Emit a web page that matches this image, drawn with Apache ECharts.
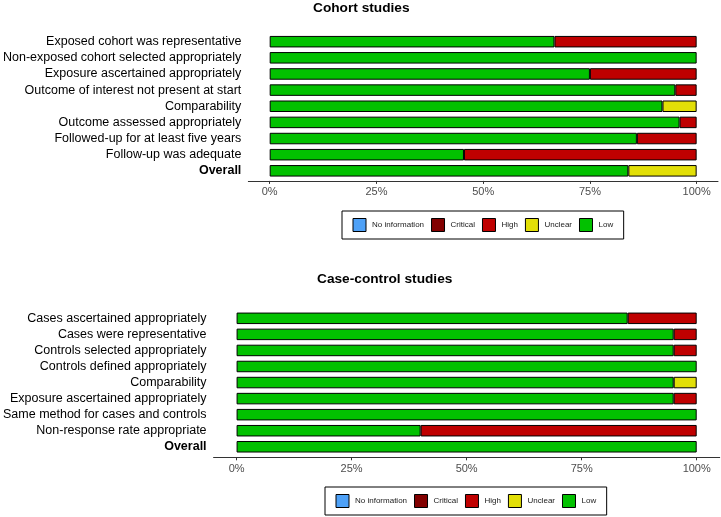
<!DOCTYPE html>
<html>
<head>
<meta charset="utf-8">
<script src="https://cdn.jsdelivr.net/npm/echarts@6/dist/echarts.min.js"></script>
<style>html,body{margin:0;padding:0;background:#fff}#c{width:721px;height:517px}</style>
</head>
<body>
<div id="c"></div>
<script>
// ---- data ----
const cohortDomains = [
  'Exposed cohort was representative',
  'Non-exposed cohort selected appropriately',
  'Exposure ascertained appropriately',
  'Outcome of interest not present at start',
  'Comparability',
  'Outcome assessed appropriately',
  'Followed-up for at least five years',
  'Follow-up was adequate',
  'Overall'
];
const cohortLow     = [66.7, 100, 75, 95, 92, 96, 86, 45.5, 84];
const cohortUnclear = [0, 0, 0, 0, 8, 0, 0, 0, 16];
const cohortHigh    = [33.3, 0, 25, 5, 0, 4, 14, 54.5, 0];
const cohortCritical = [0, 0, 0, 0, 0, 0, 0, 0, 0];
const cohortNoInfo   = [0, 0, 0, 0, 0, 0, 0, 0, 0];

const ccDomains = [
  'Cases ascertained appropriately',
  'Cases were representative',
  'Controls selected appropriately',
  'Controls defined appropriately',
  'Comparability',
  'Exposure ascertained appropriately',
  'Same method for cases and controls',
  'Non-response rate appropriate',
  'Overall'
];
const ccLow     = [85, 95, 95, 100, 95, 95, 100, 40, 100];
const ccUnclear = [0, 0, 0, 0, 5, 0, 0, 0, 0];
const ccHigh    = [15, 5, 5, 0, 0, 5, 0, 60, 0];
const ccCritical = [0, 0, 0, 0, 0, 0, 0, 0, 0];
const ccNoInfo   = [0, 0, 0, 0, 0, 0, 0, 0, 0];

const tickValues = [0, 25, 50, 75, 100];
const legendNames = ['No information', 'Critical', 'High', 'Unclear', 'Low'];

// ---- styling ----
const colors = {
  'Low': '#02C100',
  'Unclear': '#E2DF07',
  'High': '#BF0000',
  'Critical': '#820000',
  'No information': '#4EA1F7'
};
const FONT = '"Liberation Sans", Arial, Helvetica, sans-serif';
const nz = arr => arr.map(v => (v === 0 ? null : v));

function xAxisFor(gi, offset) {
  return {
    type: 'value', gridIndex: gi, min: -5, max: 105, offset: offset,
    splitLine: { show: false },
    axisLine: { show: true, lineStyle: { color: '#333', width: 1 } },
    axisTick: { show: true, customValues: tickValues, length: 3, lineStyle: { color: '#333' } },
    axisLabel: {
      customValues: tickValues, formatter: v => v + '%',
      color: '#4D4D4D', fontSize: 11, fontFamily: FONT, margin: 6
    }
  };
}
function yAxisFor(gi, cats) {
  return {
    type: 'category', gridIndex: gi, data: cats, inverse: true,
    axisLine: { show: false }, axisTick: { show: false },
    axisLabel: {
      interval: 0, hideOverlap: false,
      margin: 7, color: '#000', fontSize: 12.5, fontFamily: FONT,
      formatter: v => (v === 'Overall' ? '{b|' + v + '}' : v),
      rich: { b: { fontWeight: 'bold', fontSize: 12.5, fontFamily: FONT, color: '#000' } }
    }
  };
}
function seriesFor(gi, stack, low, unclear, high, critical, noinfo) {
  const list = [['Low', low], ['Unclear', unclear], ['High', high], ['Critical', critical], ['No information', noinfo]];
  return list.map(([name, arr]) => ({
    name: name, type: 'bar', stack: stack, xAxisIndex: gi, yAxisIndex: gi,
    barWidth: 11.5, data: nz(arr),
    itemStyle: { color: colors[name], borderColor: '#000', borderWidth: 1 },
    emphasis: { disabled: true }, animation: false
  }));
}
function legendFor(left, top) {
  return {
    left: left, top: top, orient: 'horizontal', data: legendNames,
    selectedMode: false, icon: 'rect', itemWidth: 13, itemHeight: 13, itemGap: 7,
    padding: [7, 10.5], borderColor: '#000', borderWidth: 1,
    itemStyle: { borderColor: '#000', borderWidth: 1 },
    textStyle: { fontSize: 8, fontFamily: FONT, color: '#1a1a1a', padding: [0, 0, 0, 1] }
  };
}

const chart = echarts.init(document.getElementById('c'), null, { renderer: 'canvas' });
chart.setOption({
  backgroundColor: '#fff',
  animation: false,
  title: [
    { text: 'Cohort studies', left: 313, top: 1.5, padding: 0,
      textStyle: { fontSize: 13.7, fontWeight: 'bold', fontFamily: FONT, color: '#000' } },
    { text: 'Case-control studies', left: 317, top: 272.5, padding: 0,
      textStyle: { fontSize: 13.7, fontWeight: 'bold', fontFamily: FONT, color: '#000' } }
  ],
  grid: [
    { left: 247, right: 3, top: 33.6, height: 145.3, containLabel: false },
    { left: 213.5, right: 1.3, top: 310.3, height: 144.5, containLabel: false }
  ],
  xAxis: [xAxisFor(0, 2), xAxisFor(1, 2.5)],
  yAxis: [yAxisFor(0, cohortDomains), yAxisFor(1, ccDomains)],
  legend: [legendFor(342, 211), legendFor(325, 487)],
  series: [
    ...seriesFor(0, 'cohort', cohortLow, cohortUnclear, cohortHigh, cohortCritical, cohortNoInfo),
    ...seriesFor(1, 'cc', ccLow, ccUnclear, ccHigh, ccCritical, ccNoInfo)
  ]
});
</script>
</body>
</html>
